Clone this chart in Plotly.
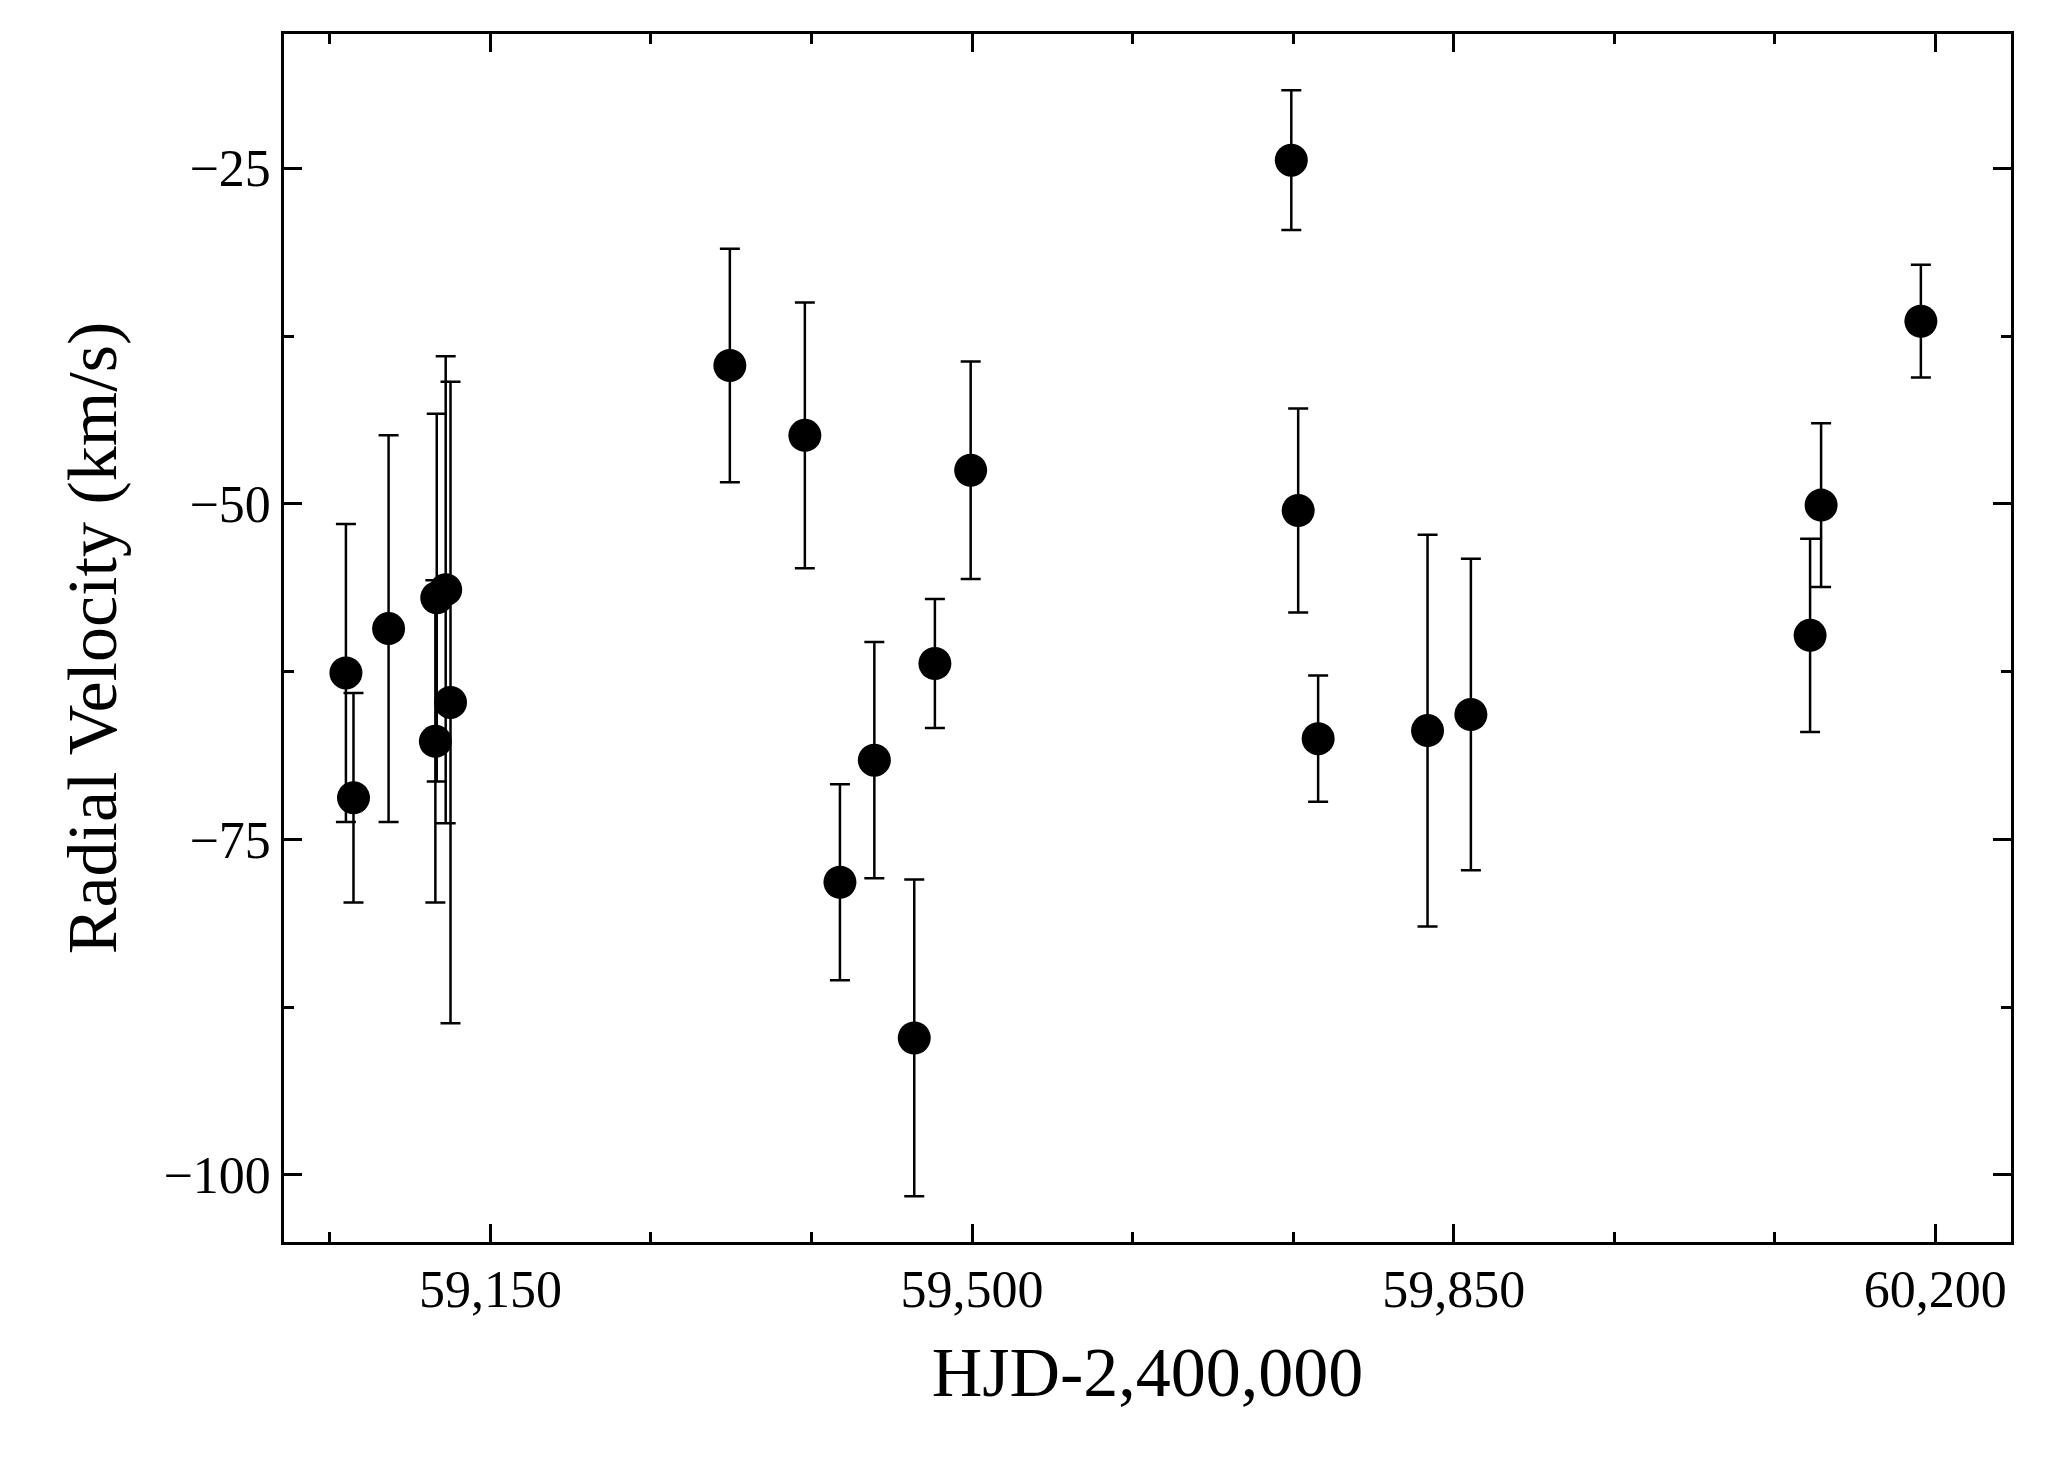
import plotly.graph_objects as go

hjd = [59045, 59050.5, 59076, 59110, 59111, 59117.5, 59121, 59324, 59378.5, 59404, 59429, 59458,
       59473, 59499, 59732, 59737, 59751.5, 59831, 59862.5, 60109, 60117, 60189.5]
rv = [-62.6, -71.9, -59.3, -67.7, -57.0, -56.4, -64.8, -39.7, -44.9, -78.2, -69.1, -89.8,
      -61.9, -47.5, -24.4, -50.5, -67.5, -66.9, -65.7, -59.8, -50.1, -36.4]
err = [11.1, 7.8, 14.4, 12.0, 13.7, 17.4, 23.9, 8.7, 9.9, 7.3, 8.8, 11.8,
       4.8, 8.1, 5.2, 7.6, 4.7, 14.6, 11.6, 7.2, 6.1, 4.2]

fig = go.Figure(go.Scatter(
    x=hjd, y=rv, mode="markers",
    marker=dict(color="black", size=33),
    error_y=dict(type="data", array=err, color="black", thickness=2.5, width=10),
))
font = "Liberation Serif"
ax = dict(showgrid=False, zeroline=False, mirror="allticks", showline=True, linecolor="black",
          linewidth=2.5, ticks="inside", ticklen=18, tickwidth=2.5, tickcolor="black",
          tickfont=dict(family=font, size=52, color="black"))
fig.update_xaxes(**ax, range=[59000, 60255], tickvals=[59150, 59500, 59850, 60200],
                 ticktext=["59,150", "59,500", "59,850", "60,200"],
                 minor=dict(dtick=350/3, tick0=59150, ticks="inside", ticklen=10, tickwidth=2.5, tickcolor="black"),
                 title=dict(text="HJD-2,400,000", font=dict(family=font, size=70, color="black"), standoff=30))
fig.update_yaxes(**ax, range=[-105, -15], tickvals=[-100, -75, -50, -25],
                 minor=dict(dtick=12.5, tick0=-100, ticks="inside", ticklen=10, tickwidth=2.5, tickcolor="black"),
                 title=dict(text="Radial Velocity (km/s)", font=dict(family=font, size=70, color="black"), standoff=25))
fig.update_layout(width=2063, height=1457, plot_bgcolor="white", paper_bgcolor="white",
                  margin=dict(l=276, r=60, t=26, b=223), showlegend=False)
fig.write_html("out.html")
